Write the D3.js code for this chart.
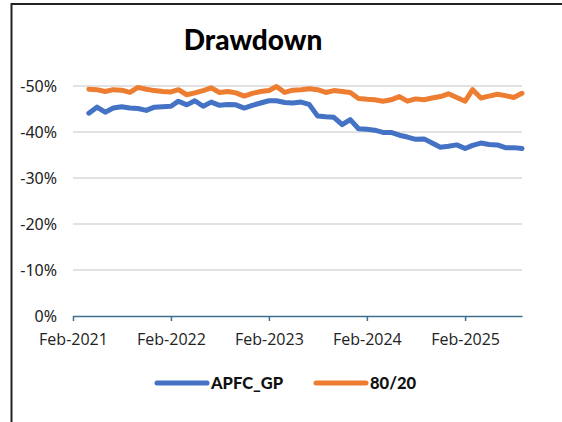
<!DOCTYPE html>
<html lang="en">
<head>
    <meta charset="UTF-8">
    <title>Drawdown</title>
    <script src="https://d3js.org/d3.v7.min.js"></script>
    <style>
        body { margin: 0; background: #fff; }
        .grid line { stroke: #d9d9d9; stroke-width: 1.5; }
        .ylab { font-family: "Noto Sans", sans-serif; font-size: 16px; fill: #222; }
        .x-axis text { font-family: "Open Sans", sans-serif; font-size: 16px; fill: #222; }
        .x-axis path, .x-axis line { stroke: #3d6f91; stroke-width: 1.5; }
        .legend text { font-family: Lato, sans-serif; font-weight: 900; font-size: 16.5px; fill: #111; }
    </style>
</head>
<body>

<svg width="562" height="422"></svg>

<script>
    // monthly drawdown, Apr-2021 .. Sep-2025
    var startMonth = new Date(2021, 3, 1);
    var apfc = [
        -44.1, -45.4, -44.3, -45.2, -45.5, -45.2, -45.1, -44.7, -45.4, -45.5,
        -45.6, -46.7, -45.9, -46.8, -45.6, -46.5, -45.8, -46.0, -45.9, -45.2,
        -45.8, -46.3, -46.8, -46.8, -46.4, -46.3, -46.5, -46.0, -43.5, -43.3,
        -43.2, -41.6, -42.7, -40.7, -40.6, -40.4, -39.9, -39.9, -39.3, -38.9,
        -38.4, -38.5, -37.6, -36.7, -36.9, -37.2, -36.4, -37.1, -37.6, -37.3,
        -37.2, -36.6, -36.6, -36.4
    ];
    var p8020 = [
        -49.3, -49.2, -48.8, -49.2, -49.1, -48.6, -49.7, -49.3, -49.0, -48.8,
        -48.7, -49.2, -48.1, -48.5, -49.0, -49.6, -48.6, -48.8, -48.5, -47.8,
        -48.4, -48.8, -49.0, -49.9, -48.6, -49.1, -49.2, -49.4, -49.2, -48.6,
        -49.0, -48.8, -48.6, -47.3, -47.1, -47.0, -46.7, -47.0, -47.7, -46.7,
        -47.2, -47.0, -47.4, -47.7, -48.3, -47.5, -46.7, -49.2, -47.4, -47.8,
        -48.2, -47.9, -47.5, -48.4
    ];
    var series = [
        {name: "APFC_GP", values: apfc, color: "#4472c4"},
        {name: "80/20", values: p8020, color: "#ed7d31"}
    ];
    var yTicks = [0, -10, -20, -30, -40, -50];
    var xTicks = [2021, 2022, 2023, 2024, 2025].map(function(y) { return new Date(y, 1, 1); });

    var svg = d3.select("svg");

    // chart frame
    svg.append("rect")
        .attr("x", 11.5).attr("y", 4)
        .attr("width", 620).attr("height", 500)
        .attr("fill", "none")
        .attr("stroke", "#222")
        .attr("stroke-width", 2);

    svg.append("text")
        .attr("x", 253).attr("y", 50)
        .attr("text-anchor", "middle")
        .style("font-family", "Lato, sans-serif")
        .style("font-weight", "900")
        .style("font-size", "28px")
        .text("Drawdown");

    var x = d3.scaleTime()
        .domain([new Date(2021, 1, 1), new Date(2025, 8, 1)])
        .range([73, 522]);

    var y = d3.scaleLinear()
        .domain([-50, 0])
        .range([86, 316]);

    var grid = svg.append("g").attr("class", "grid");
    grid.selectAll("line")
        .data(yTicks.filter(function(d) { return d !== 0; }))
        .enter().append("line")
        .attr("x1", 73).attr("x2", 522)
        .attr("y1", function(d) { return y(d); })
        .attr("y2", function(d) { return y(d); });

    svg.selectAll(".ylab")
        .data(yTicks)
        .enter().append("text")
        .attr("class", "ylab")
        .attr("x", 57)
        .attr("y", function(d) { return y(d); })
        .attr("dy", "0.35em")
        .attr("text-anchor", "end")
        .text(function(d) { return d + "%"; });

    var xAxis = svg.append("g")
        .attr("class", "x-axis")
        .attr("transform", "translate(0," + y(0) + ")")
        .call(d3.axisBottom(x)
            .tickValues(xTicks)
            .tickSize(5)
            .tickSizeOuter(0)
            .tickPadding(13)
            .tickFormat(d3.timeFormat("%b-%Y")));

    var line = d3.line()
        .x(function(d, i) { return x(d3.timeMonth.offset(startMonth, i)); })
        .y(function(d) { return y(d); });

    series.forEach(function(s) {
        svg.append("path")
            .datum(s.values)
            .attr("d", line)
            .attr("fill", "none")
            .attr("stroke", s.color)
            .attr("stroke-width", 5)
            .attr("stroke-linejoin", "round")
            .attr("stroke-linecap", "round");
    });

    // legend
    var legendX = [157, 316];
    var legend = svg.append("g").attr("class", "legend");
    series.forEach(function(s, i) {
        legend.append("line")
            .attr("x1", legendX[i]).attr("x2", legendX[i] + 50)
            .attr("y1", 383).attr("y2", 383)
            .attr("stroke", s.color)
            .attr("stroke-width", 5)
            .attr("stroke-linecap", "round");
        legend.append("text")
            .attr("x", legendX[i] + 54)
            .attr("y", 383)
            .attr("dy", "0.36em")
            .text(s.name);
    });
</script>

</body>
</html>
